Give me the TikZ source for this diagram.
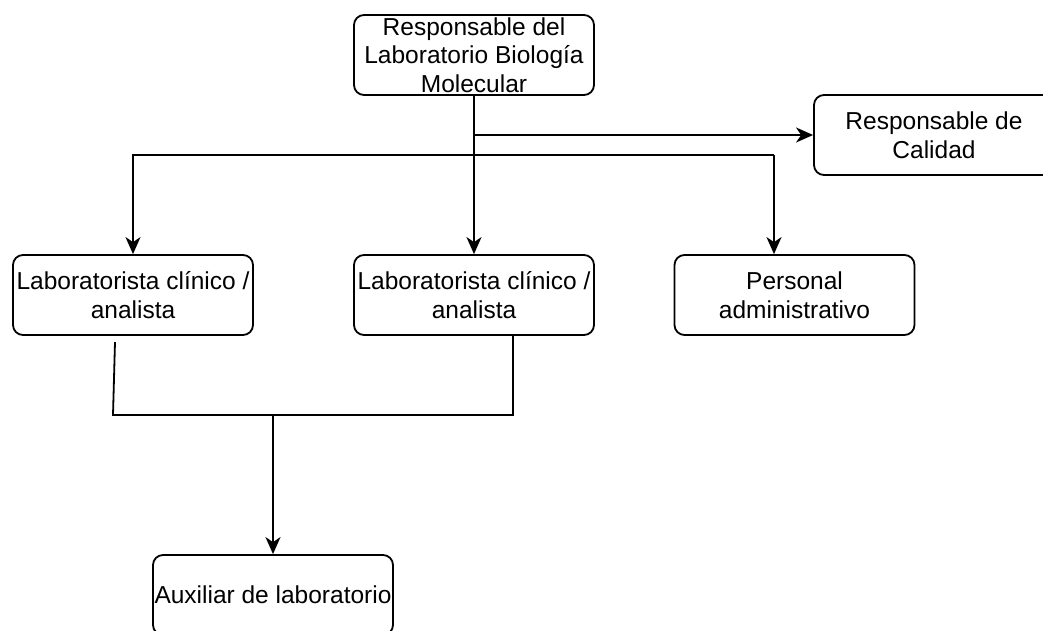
\documentclass[tikz,border=0pt]{standalone}
\usepackage{fontspec}
\setmainfont{Liberation Sans}
\usetikzlibrary{arrows.meta}
\tikzset{
  box/.style={draw=black, line width=1.8pt, rounded corners=10pt, minimum width=240pt, minimum height=80pt, inner sep=0pt, align=center, font=\fontsize{24.5}{28.5}\selectfont, text=black},
  arr/.style={line width=1.8pt, -{Stealth[length=17pt, width=15pt, inset=5pt]}},
  ln/.style={line width=1.8pt},
}
\begin{document}
\begin{tikzpicture}[x=1pt, y=-1pt]
\useasboundingbox (0,0) rectangle (1043,630);
\clip (0,0) rectangle (1043,630);
\fill[white] (0,0) rectangle (1043,630);
\node[box] (top) at (474,55) {Responsable del\\Laboratorio Biología\\Molecular};
\node[box] (qual) at (934,135) {Responsable de\\Calidad};
\node[box] (lab1) at (133,295) {Laboratorista clínico /\\analista};
\node[box] (lab2) at (474,295) {Laboratorista clínico /\\analista};
\node[box] (pers) at (794.5,295) {Personal\\administrativo};
\node[box] (aux) at (273,595) {Auxiliar de laboratorio};
\coordinate (b1) at (133,155);
\coordinate (b2) at (774,155);
\coordinate (s1) at (115,342);
\coordinate (s2) at (113,415);
\coordinate (m1) at (273,415);
\draw[arr] (top.south) -- (lab2.north);
\draw[arr] (top.south |- qual.west) -- (qual.west);
\draw[arr] (b2) -- (b1) -- (lab1.north);
\draw[arr] (b2) -- (b2 |- pers.north);
\draw[ln] (s1) -- (s2) -- (s2 -| 513,0) -- (513,0 |- lab2.south);
\draw[arr] (m1) -- (aux.north);
\end{tikzpicture}
\end{document}
